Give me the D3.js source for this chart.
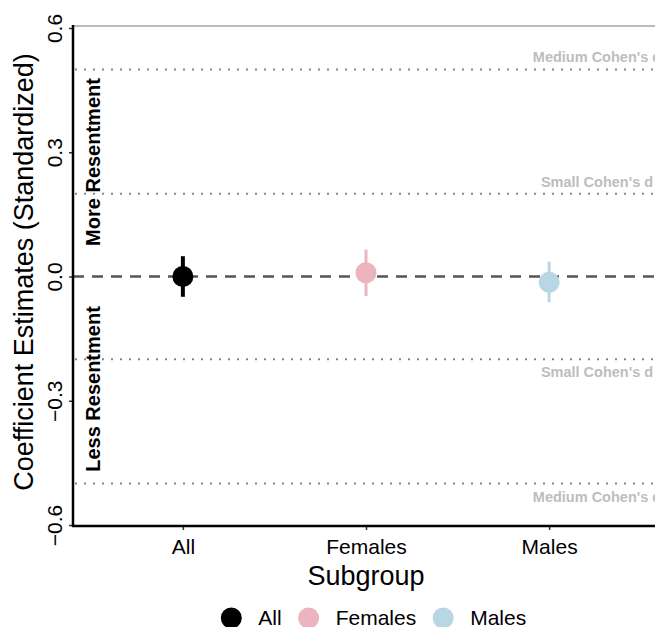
<!DOCTYPE html>
<html>
<head>
<meta charset="utf-8">
<script src="https://cdn.jsdelivr.net/npm/d3@7"></script>
<style>
  body { margin: 0; background: #fff; }
  svg { display: block; font-family: "Liberation Sans", Arial, Helvetica, sans-serif; }
</style>
</head>
<body>
<div id="chart"></div>
<script>
// data
var groups = ['All', 'Females', 'Males'];
var estimates = [0.000, 0.009, -0.014];
var lowers = [-0.049, -0.047, -0.062];
var uppers = [0.049, 0.065, 0.036];
var colors = ['#000000', '#ebb4be', '#b8d6e4'];
var yTicks = [-0.6, -0.3, 0.0, 0.3, 0.6];
var cohenLines = [
  { v: 0.5, label: "Medium Cohen's d", side: 'above' },
  { v: 0.2, label: "Small Cohen's d", side: 'above' },
  { v: -0.2, label: "Small Cohen's d", side: 'below' },
  { v: -0.5, label: "Medium Cohen's d", side: 'below' }
];

var W = 655, H = 627;
var panel = { left: 73, right: 659, top: 26, bottom: 526 };

var svg = d3.select('#chart').append('svg')
  .attr('width', W).attr('height', H);

var x = d3.scalePoint()
  .domain(groups)
  .range([panel.left, panel.right])
  .padding(0.6);

var y = d3.scaleLinear()
  .domain([-0.6, 0.6])
  .range([525, 28]);

// panel border (top)
svg.append('line')
  .attr('x1', panel.left).attr('x2', W)
  .attr('y1', panel.top).attr('y2', panel.top)
  .attr('stroke', '#777').attr('stroke-width', 1);

// cohen's d reference lines
var refs = svg.append('g');
refs.selectAll('line')
  .data(cohenLines)
  .enter().append('line')
  .attr('x1', panel.left + 2).attr('x2', W)
  .attr('y1', function(d){ return y(d.v); })
  .attr('y2', function(d){ return y(d.v); })
  .attr('stroke', '#888')
  .attr('stroke-width', 2)
  .attr('stroke-dasharray', '2,7');

refs.selectAll('text')
  .data(cohenLines)
  .enter().append('text')
  .attr('x', 597)
  .attr('y', function(d){ return d.side === 'above' ? y(d.v) - 7 : y(d.v) + 18; })
  .attr('text-anchor', 'middle')
  .attr('font-size', 14.5)
  .attr('font-weight', 'bold')
  .attr('fill', '#bdbdbd')
  .text(function(d){ return d.label; });

// zero line
svg.append('line')
  .attr('x1', panel.left).attr('x2', W)
  .attr('y1', y(0)).attr('y2', y(0))
  .attr('stroke', '#555')
  .attr('stroke-width', 2.5)
  .attr('stroke-dasharray', '11,8');

// direction labels
svg.append('text')
  .attr('transform', 'translate(100,' + 162 + ') rotate(-90)')
  .attr('text-anchor', 'middle')
  .attr('font-size', 20)
  .attr('font-weight', 'bold')
  .text('More Resentment');

svg.append('text')
  .attr('transform', 'translate(100,' + 389 + ') rotate(-90)')
  .attr('text-anchor', 'middle')
  .attr('font-size', 20)
  .attr('font-weight', 'bold')
  .text('Less Resentment');

// error bars and points
var pts = svg.append('g').selectAll('g')
  .data(groups)
  .enter().append('g');

pts.append('line')
  .attr('x1', function(d){ return x(d); })
  .attr('x2', function(d){ return x(d); })
  .attr('y1', function(d, i){ return y(lowers[i]); })
  .attr('y2', function(d, i){ return y(uppers[i]); })
  .attr('stroke', function(d, i){ return colors[i]; })
  .attr('stroke-width', function(d, i){ return i === 0 ? 4 : 3; });

pts.append('circle')
  .attr('cx', function(d){ return x(d); })
  .attr('cy', function(d, i){ return y(estimates[i]); })
  .attr('r', 10.5)
  .attr('fill', function(d, i){ return colors[i]; });

// y axis
var yAxis = svg.append('g')
  .attr('transform', 'translate(' + panel.left + ',0)')
  .call(d3.axisLeft(y).tickValues(yTicks).tickSize(4).tickFormat(function(d){
    return d3.format('.1f')(d).replace('-', '\u2212');
  }));
yAxis.select('.domain').remove();
yAxis.selectAll('.tick line').attr('stroke', '#333').attr('stroke-width', 1.5);
yAxis.selectAll('.tick text')
  .attr('font-size', 21)
  .attr('font-family', '"Liberation Sans", Arial, sans-serif')
  .attr('fill', '#000')
  .attr('transform', 'rotate(-90)')
  .attr('x', 0).attr('y', -11)
  .attr('dy', 0)
  .attr('text-anchor', 'middle');

svg.append('line')
  .attr('x1', panel.left).attr('x2', panel.left)
  .attr('y1', panel.top - 1).attr('y2', panel.bottom + 1)
  .attr('stroke', '#000').attr('stroke-width', 2.5);

// x axis
var xAxis = svg.append('g')
  .attr('transform', 'translate(0,' + panel.bottom + ')')
  .call(d3.axisBottom(x).tickSize(4));
xAxis.select('.domain').remove();
xAxis.selectAll('.tick line').attr('stroke', '#333').attr('stroke-width', 1.5);
xAxis.selectAll('.tick text')
  .attr('font-size', 21)
  .attr('font-family', '"Liberation Sans", Arial, sans-serif')
  .attr('fill', '#000')
  .attr('y', 28)
  .attr('dy', 0);

svg.append('line')
  .attr('x1', panel.left - 1).attr('x2', W)
  .attr('y1', panel.bottom).attr('y2', panel.bottom)
  .attr('stroke', '#000').attr('stroke-width', 2.5);

// axis titles
svg.append('text')
  .attr('x', (panel.left + panel.right) / 2)
  .attr('y', 585)
  .attr('text-anchor', 'middle')
  .attr('font-size', 27)
  .text('Subgroup');

svg.append('text')
  .attr('transform', 'translate(33,' + 272 + ') rotate(-90)')
  .attr('text-anchor', 'middle')
  .attr('font-size', 27)
  .text('Coefficient Estimates (Standardized)');

// legend
var legend = svg.append('g');
var items = legend.selectAll('g')
  .data(groups)
  .enter().append('g');
items.append('circle')
  .attr('r', 10.5)
  .attr('cy', 618)
  .attr('fill', function(d, i){ return colors[i]; });
items.append('text')
  .attr('y', 625)
  .attr('font-size', 21)
  .text(function(d){ return d; });

var cursor = 0, positions = [];
items.each(function(d){
  var tw = d3.select(this).select('text').node().getComputedTextLength();
  positions.push(cursor);
  cursor += 27 + tw + 27;
});
var total = cursor - 27 + 10.5;
var start = 373.5 - total / 2;
items.each(function(d, i){
  var g = d3.select(this);
  g.select('circle').attr('cx', start + positions[i] + 10.5);
  g.select('text').attr('x', start + positions[i] + 10.5 + 27);
});
</script>
</body>
</html>
